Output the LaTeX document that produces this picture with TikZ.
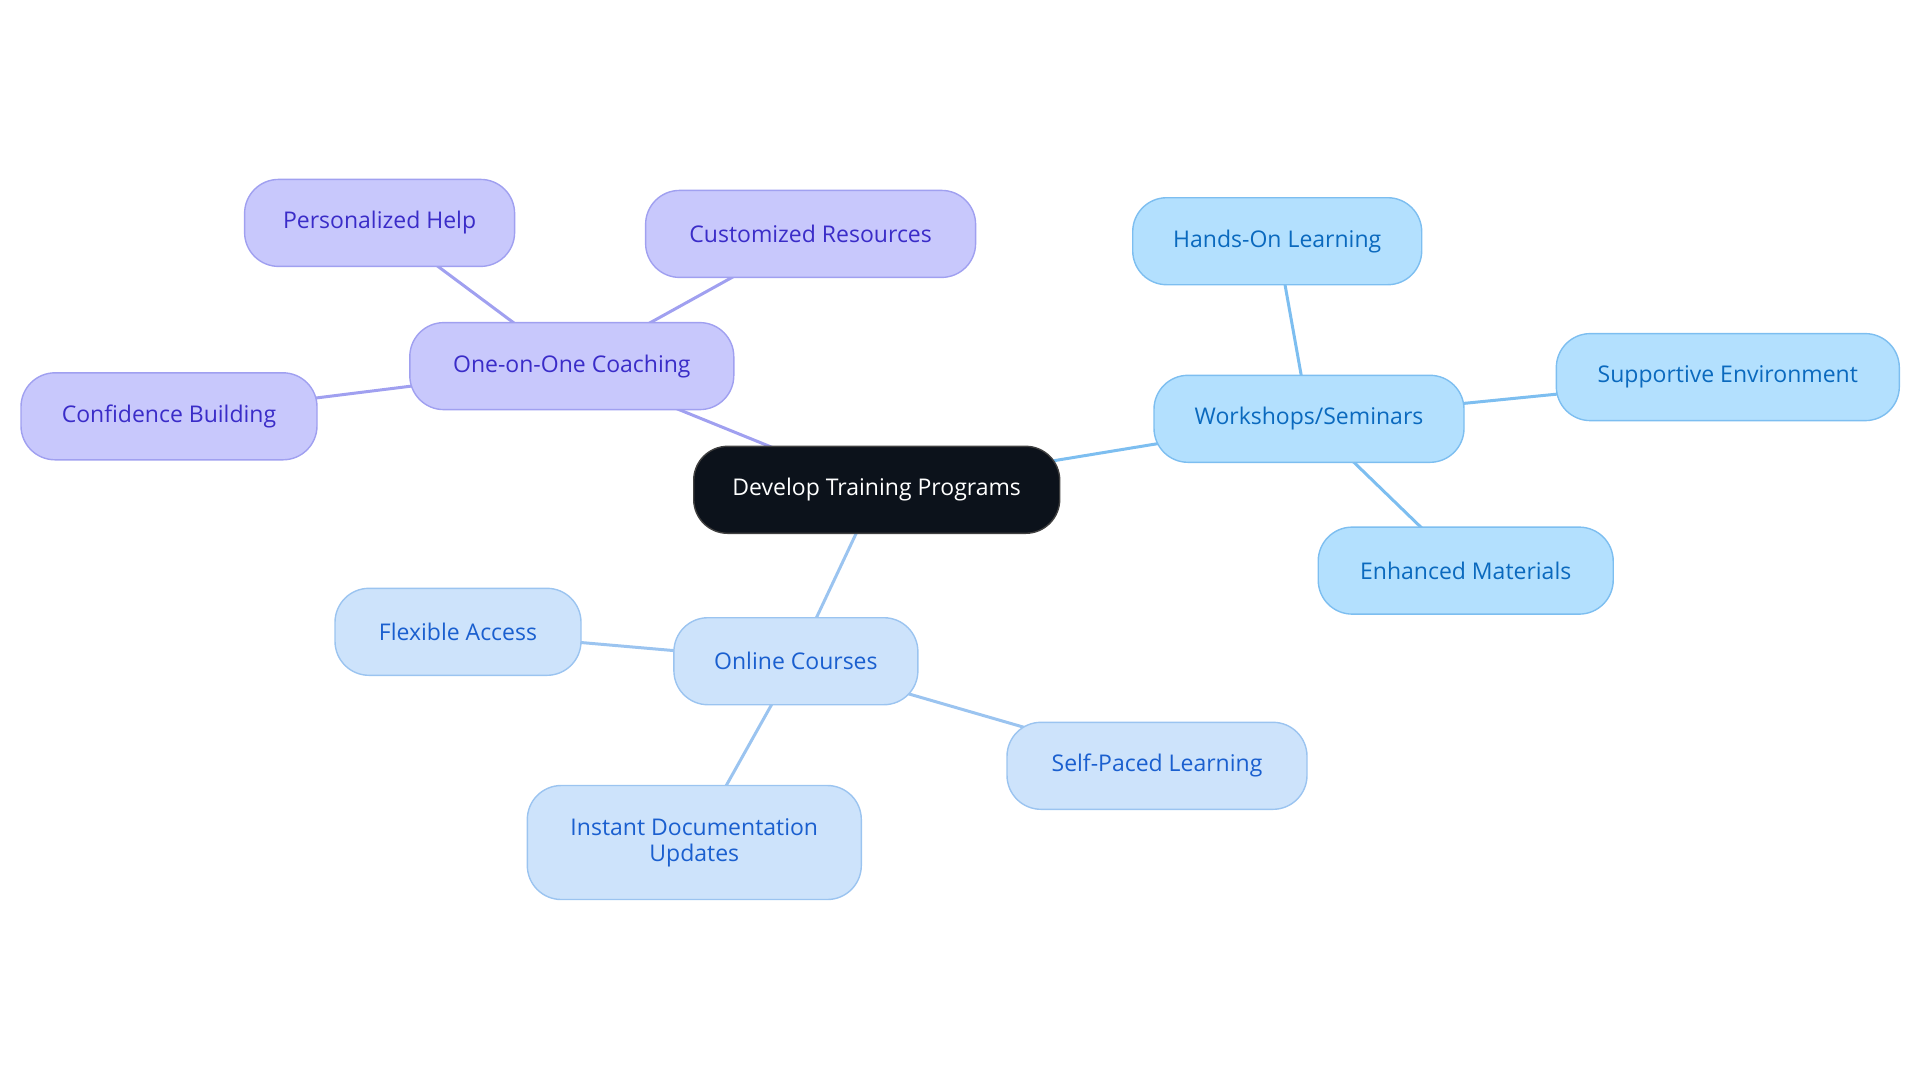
\documentclass[tikz,border=0pt]{standalone}
\usepackage{fontspec}
\setmainfont{Open Sans}
\usetikzlibrary{backgrounds}
\definecolor{pfill}{HTML}{C8C8FC}
\definecolor{pline}{HTML}{A0A0F0}
\definecolor{ptext}{HTML}{3A2CC8}
\definecolor{wfill}{HTML}{B3E0FE}
\definecolor{wline}{HTML}{7DBEF0}
\definecolor{wtext}{HTML}{0A69BE}
\definecolor{ofill}{HTML}{CDE3FB}
\definecolor{oline}{HTML}{9BC4F0}
\definecolor{otext}{HTML}{1A5FCF}
\definecolor{rfill}{HTML}{0C121B}
\begin{document}
\begin{tikzpicture}[x=0.5pt,y=-0.5pt,
  base/.style={rounded corners=17pt, minimum height=43.5pt, line width=0.7pt,
    font=\fontsize{11.5}{13}\selectfont, align=center, inner sep=0pt},
  rootbox/.style={base, fill=rfill, draw=black!75, text=white},
  purpbox/.style={base, fill=pfill, draw=pline, text=ptext},
  wsbox/.style={base, fill=wfill, draw=wline, text=wtext},
  onbox/.style={base, fill=ofill, draw=oline, text=otext},
  pedge/.style={draw=pline, line width=1.5pt},
  wedge/.style={draw=wline, line width=1.5pt},
  oedge/.style={draw=oline, line width=1.5pt}]
\useasboundingbox (0,0) rectangle (1920,1083);

\node[rootbox, minimum width=183pt] (root) at (876.7,489.8) {Develop Training Programs};

\node[purpbox, minimum width=162pt] (coach) at (571.8,366.1) {One-on-One Coaching};
\node[purpbox, minimum width=135pt] (pers) at (379.6,222.9) {Personalized Help};
\node[purpbox, minimum width=165pt] (cust) at (810.6,233.9) {Customized Resources};
\node[purpbox, minimum width=148pt] (conf) at (169,416.3) {Confidence Building};

\node[wsbox, minimum width=155pt] (work) at (1309,418.8) {Workshops/Seminars};
\node[wsbox, minimum width=144.5pt] (hands) at (1277.2,241.2) {Hands-On Learning};
\node[wsbox, minimum width=171.5pt] (supp) at (1727.8,377.1) {Supportive Environment};
\node[wsbox, minimum width=147.5pt] (enh) at (1465.7,570.6) {Enhanced Materials};

\node[onbox, minimum width=122pt] (online) at (795.9,661.2) {Online Courses};
\node[onbox, minimum width=123pt] (flex) at (458,631.8) {Flexible Access};
\node[onbox, minimum width=150pt] (self) at (1157,765.8) {Self-Paced Learning};
\node[onbox, minimum width=167pt, minimum height=57pt] (inst) at (694.3,842.5) {Instant Documentation\\Updates};

\begin{scope}[on background layer]
\draw[pedge] (root.center) -- (coach.center);
\draw[pedge] (coach.center) -- (pers.center);
\draw[pedge] (coach.center) -- (cust.center);
\draw[pedge] (coach.center) -- (conf.center);
\draw[wedge] (root.center) -- (work.center);
\draw[wedge] (work.center) -- (hands.center);
\draw[wedge] (work.center) -- (supp.center);
\draw[wedge] (work.center) -- (enh.center);
\draw[oedge] (root.center) -- (online.center);
\draw[oedge] (online.center) -- (flex.center);
\draw[oedge] (online.center) -- (self.center);
\draw[oedge] (online.center) -- (inst.center);
\end{scope}
\end{tikzpicture}
\end{document}
